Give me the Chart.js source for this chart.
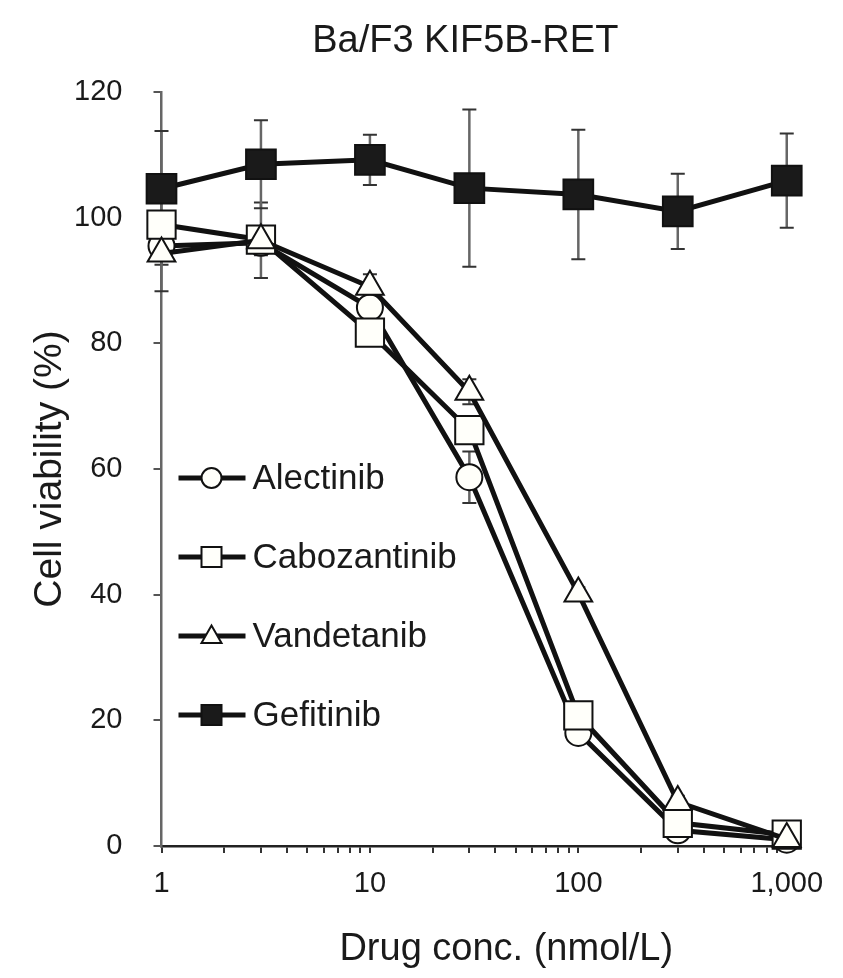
<!DOCTYPE html>
<html>
<head>
<meta charset="utf-8">
<title>Ba/F3 KIF5B-RET</title>
<script src="https://cdn.jsdelivr.net/npm/chart.js@4.4.1/dist/chart.umd.min.js"></script>
<style>
    html, body { margin: 0; padding: 0; background: #fff; }
    #wrap { width: 843px; height: 978px; position: relative; }
</style>
</head>
<body>
<div id="wrap"><canvas id="viabilityChart"></canvas></div>
<script>
// drug concentrations (nmol/L)
const concentrations = [1, 3, 10, 30, 100, 300, 1000];

// cell viability (%) and error (+/-)
const alectinib = [95.5, 96, 85.7, 58.7, 18, 2.5, 1];
const alectinibErr = [3, 2, 2, 4.1, 1, 1, 0.5];
const cabozantinib = [98.9, 96.5, 81.7, 66.2, 20.8, 3.7, 1.8];
const cabozantinibErr = [2, 2, 2, 2, 1, 1, 0.5];
const vandetanib = [94.3, 96.4, 89, 72.3, 40.2, 7, 1.1];
const vandetanibErr = [6, 6, 2, 2, 1, 1, 0.5];
const gefitinib = [104.6, 108.5, 109.2, 104.7, 103.7, 101, 105.9];
const gefitinibErr = [9.2, 7, 4, 12.5, 10.3, 6, 7.5];

const drugNames = ['Alectinib', 'Cabozantinib', 'Vandetanib', 'Gefitinib'];

const xTickValues = [1, 2, 3, 4, 5, 6, 7, 8, 9, 10, 20, 30, 40, 50, 60, 70, 80, 90,
    100, 200, 300, 400, 500, 600, 700, 800, 900, 1000];
const xMajorTicks = [1, 10, 100, 1000];
const xTickLabels = ['1', '10', '100', '1,000'];
const yTickValues = [0, 20, 40, 60, 80, 100, 120];

const chartTitle = 'Ba/F3 KIF5B-RET';
const xTitle = 'Drug conc. (nmol/L)';
const yTitle = 'Cell viability (%)';

const FONT = "'Liberation Sans', Arial, Helvetica, sans-serif";
const INK = '#1a1a1a';

function toPoints(values) {
    return values.map((v, i) => ({x: concentrations[i], y: v}));
}

function makeDataset(label, values, errors, style, radius, fill, order) {
    return {
        label: label,
        data: toPoints(values),
        errors: errors,
        borderColor: '#111',
        borderWidth: 5,
        pointStyle: style,
        pointRadius: radius,
        pointHoverRadius: radius,
        pointBackgroundColor: fill,
        pointBorderColor: '#111',
        pointBorderWidth: 2,
        tension: 0,
        clip: false,
        order: order
    };
}

// small marker drawer used by the legend
function drawMarker(ctx, style, x, y, size, fill) {
    ctx.save();
    ctx.fillStyle = fill;
    ctx.strokeStyle = '#111';
    ctx.lineWidth = 2;
    ctx.beginPath();
    if (style === 'circle') {
        ctx.arc(x, y, size / 2, 0, Math.PI * 2);
    } else if (style === 'rect') {
        ctx.rect(x - size / 2, y - size / 2, size, size);
    } else if (style === 'triangle') {
        const h = size * 0.87;
        ctx.moveTo(x, y - h * 0.6);
        ctx.lineTo(x + size / 2, y + h * 0.4);
        ctx.lineTo(x - size / 2, y + h * 0.4);
        ctx.closePath();
    }
    ctx.fill();
    ctx.stroke();
    ctx.restore();
}

const errorBarPlugin = {
    id: 'errorBars',
    beforeDatasetsDraw(chart) {
        const {ctx, scales: {x, y}} = chart;
        ctx.save();
        chart.data.datasets.forEach(ds => {
            ds.data.forEach((pt, i) => {
                const err = ds.errors[i];
                const px = x.getPixelForValue(pt.x);
                const top = y.getPixelForValue(pt.y + err);
                const bottom = y.getPixelForValue(pt.y - err);
                ctx.strokeStyle = '#666';
                ctx.lineWidth = 2.5;
                ctx.beginPath();
                ctx.moveTo(px, top);
                ctx.lineTo(px, bottom);
                ctx.stroke();
                ctx.strokeStyle = '#333';
                ctx.lineWidth = 2;
                ctx.beginPath();
                ctx.moveTo(px - 7, top);
                ctx.lineTo(px + 7, top);
                ctx.moveTo(px - 7, bottom);
                ctx.lineTo(px + 7, bottom);
                ctx.stroke();
            });
        });
        ctx.restore();
    }
};

const insideLegendPlugin = {
    id: 'insideLegend',
    afterDraw(chart) {
        const {ctx, chartArea} = chart;
        ctx.save();
        chart.data.datasets.forEach((ds, i) => {
            const yy = chartArea.top + 386 + i * 79;
            const x0 = chartArea.left + 17;
            ctx.strokeStyle = '#111';
            ctx.lineWidth = 5;
            ctx.beginPath();
            ctx.moveTo(x0, yy);
            ctx.lineTo(x0 + 67, yy);
            ctx.stroke();
            drawMarker(ctx, ds.pointStyle, x0 + 33, yy, 20, ds.pointBackgroundColor);
            ctx.fillStyle = INK;
            ctx.font = '35px ' + FONT;
            ctx.textAlign = 'left';
            ctx.textBaseline = 'middle';
            ctx.fillText(ds.label, x0 + 74, yy + 1);
        });
        ctx.restore();
    }
};

const titlesPlugin = {
    id: 'titles',
    afterDraw(chart) {
        const {ctx, chartArea} = chart;
        const mid = (chartArea.left + chartArea.right) / 2;
        ctx.save();
        ctx.fillStyle = INK;
        ctx.textAlign = 'center';
        ctx.textBaseline = 'middle';
        ctx.font = '38px ' + FONT;
        ctx.fillText(chartTitle, mid - 14, chartArea.top - 50);
        ctx.fillText(xTitle, mid + 27, chartArea.bottom + 104);
        ctx.restore();
    }
};

const ctx = document.getElementById('viabilityChart').getContext('2d');
const viabilityChart = new Chart(ctx, {
    type: 'line',
    data: {
        datasets: [
            makeDataset(drugNames[0], alectinib, alectinibErr, 'circle', 13, '#fffffa', 4),
            makeDataset(drugNames[1], cabozantinib, cabozantinibErr, 'rect', 20, '#fffffa', 3),
            makeDataset(drugNames[2], vandetanib, vandetanibErr, 'triangle', 16, '#fffffa', 2),
            makeDataset(drugNames[3], gefitinib, gefitinibErr, 'rect', 21, '#1a1a1a', 1)
        ]
    },
    options: {
        responsive: true,
        maintainAspectRatio: false,
        animation: false,
        layout: {padding: {top: 92, right: 46, bottom: 0, left: 0}},
        plugins: {
            legend: {display: false},
            tooltip: {enabled: false},
            title: {display: false}
        },
        scales: {
            x: {
                type: 'logarithmic',
                min: 1,
                max: 1120,
                afterBuildTicks: scale => {
                    scale.ticks = xTickValues.map(v => ({value: v, major: xMajorTicks.includes(v)}));
                },
                afterFit: scale => { scale.height = 132; },
                ticks: {
                    autoSkip: false,
                    maxRotation: 0,
                    padding: 14,
                    color: INK,
                    font: {family: FONT, size: 29},
                    callback: value => {
                        const k = xMajorTicks.indexOf(value);
                        return k >= 0 ? xTickLabels[k] : '';
                    }
                },
                grid: {drawOnChartArea: false, tickLength: 7, color: '#333', lineWidth: 2},
                border: {display: true, color: '#222', width: 2.5}
            },
            y: {
                min: 0,
                max: 120,
                afterBuildTicks: scale => {
                    scale.ticks = yTickValues.map(v => ({value: v}));
                },
                afterFit: scale => { scale.width = 161.5; },
                ticks: {
                    padding: 31,
                    color: INK,
                    font: {family: FONT, size: 29}
                },
                grid: {drawOnChartArea: false, tickLength: 8, color: '#555', lineWidth: 2},
                border: {display: true, color: '#666', width: 2.5},
                title: {
                    display: true,
                    text: yTitle,
                    color: INK,
                    font: {family: FONT, size: 39},
                    padding: {top: 27, bottom: 0}
                }
            }
        }
    },
    plugins: [errorBarPlugin, insideLegendPlugin, titlesPlugin]
});
</script>
</body>
</html>
